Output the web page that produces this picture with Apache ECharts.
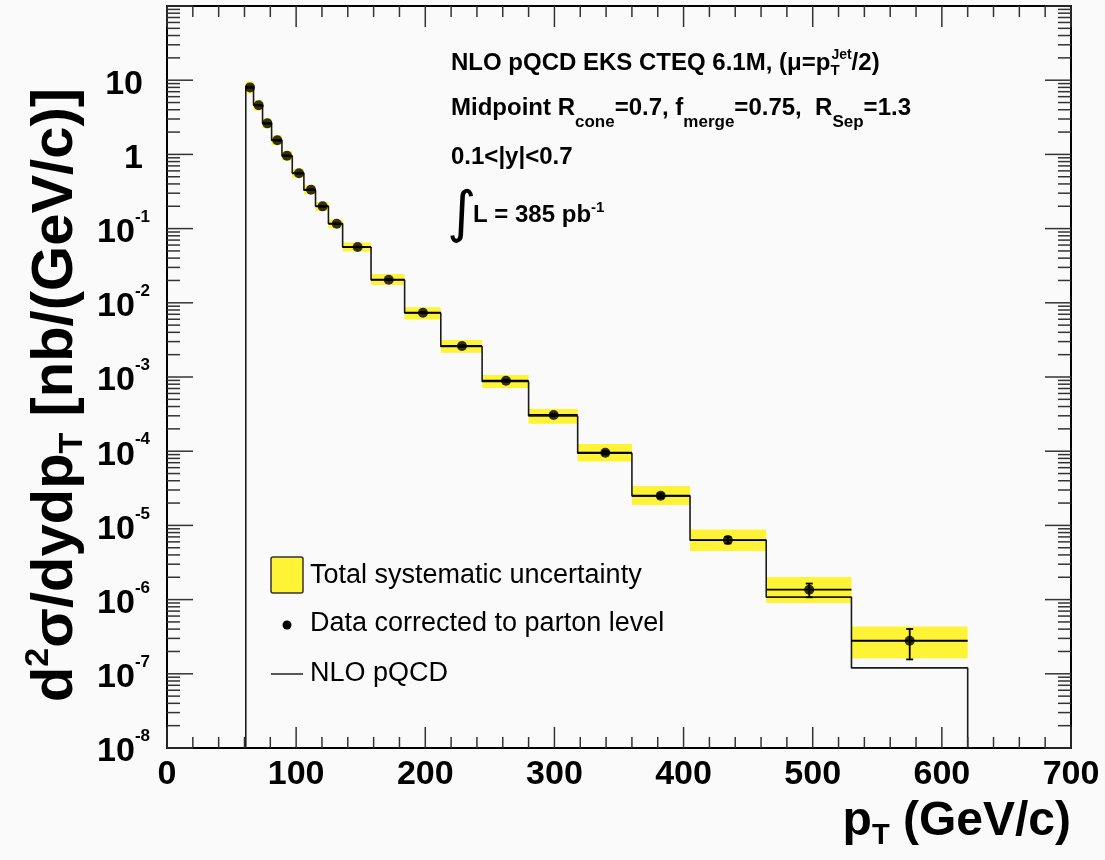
<!DOCTYPE html>
<html>
<head>
<meta charset="utf-8">
<script src="https://cdn.jsdelivr.net/npm/echarts@6/dist/echarts.min.js"></script>
<style>
  html, body { margin: 0; padding: 0; background: #fafafa; }
  #chart { width: 1105px; height: 860px; }
</style>
</head>
<body>
<div id="chart"></div>
<script>
// Jet pT bin edges (GeV/c)
const binEdges = [61, 67, 74, 81, 89, 97, 106, 115, 125, 136, 158, 184, 212, 244, 280, 318, 360, 405, 464, 530, 620];
// pT at which each measured point is placed (GeV/c)
const dataPt = [64.3, 71.0, 77.7, 85.4, 92.9, 102.2, 111.5, 120.5, 131.4, 147.6, 171.7, 198.2, 228.4, 262.5, 299.4, 339.4, 382.3, 434.3, 497.3, 575.1];
// Measured inclusive jet cross section, nb/(GeV/c)
const dataXsec = [8.0, 4.59, 2.62, 1.55, 0.96, 0.556, 0.334, 0.1995, 0.116, 0.0565, 0.0205, 0.00736, 0.00262, 8.9e-4, 3.08e-4, 9.55e-5, 2.51e-5, 6.35e-6, 1.36e-6, 2.79e-7];
// Statistical uncertainty (%)
const statErrPct = [0.4, 0.5, 0.6, 0.7, 0.8, 0.9, 1.0, 1.2, 1.4, 1.1, 1.5, 2.0, 2.5, 3.0, 4.0, 5.5, 7.0, 10, 21, 44];
// Total systematic uncertainty (%), upward and downward
const sysUpPct = [20, 17, 16, 16, 16, 15, 15, 15, 15, 15, 19, 18, 20, 20, 20, 31, 35, 39, 48, 56];
const sysDownPct = [17, 15, 14, 14, 14, 13, 13, 13, 13, 13, 15, 19, 19, 20, 24, 24, 25, 29, 34, 42];
// NLO pQCD prediction per bin, nb/(GeV/c)
const nloXsec = [8.2, 4.6, 2.6, 1.55, 0.95, 0.56, 0.33, 0.2, 0.117, 0.056, 0.0203, 0.0073, 0.00258, 8.7e-4, 2.98e-4, 9.4e-5, 2.5e-5, 6.3e-6, 1.08e-6, 1.2e-7];

// Axis ranges and tick layout
const xRange = [0, 700];
const xMajorStep = 100;
const xMinorStep = 20;
const yExpRange = [-8, 2];
const yMinorMultipliers = [2, 3, 4, 5, 6, 7, 8, 9];
// decade labels drawn on the y axis (exponents); the top decade carries none
const yLabelExps = [-8, -7, -6, -5, -4, -3, -2, -1, 0, 1];

const FONT = '"Liberation Sans", Arial, Helvetica, sans-serif';
const YELLOW = '#fff335';

const yMin = Math.pow(10, yExpRange[0]);
const yMax = Math.pow(10, yExpRange[1]);

// systematic bands
const bandData = dataXsec.map((v, i) => [
  binEdges[i], binEdges[i + 1],
  v * (1 - sysDownPct[i] / 100), v * (1 + sysUpPct[i] / 100)
]);

// data points with bin-width bars and statistical error bars
const pointData = dataXsec.map((v, i) => [
  dataPt[i], v, binEdges[i], binEdges[i + 1],
  v * (1 - statErrPct[i] / 100), v * (1 + statErrPct[i] / 100)
]);

// NLO histogram outline (rises from the axis floor at the first edge, falls back after the last)
const nloLine = [[binEdges[0], yMin]];
nloXsec.forEach((v, i) => {
  nloLine.push([binEdges[i], v]);
  nloLine.push([binEdges[i + 1], v]);
});
nloLine.push([binEdges[binEdges.length - 1], yMin]);

// inward ticks on all four sides
const tickData = [];
for (let v = xRange[0]; v <= xRange[1]; v += xMinorStep) {
  tickData.push([v, 1, v % xMajorStep === 0 ? 0 : 1]);
}
for (let e = yExpRange[0]; e <= yExpRange[1]; e++) {
  const d = Math.pow(10, e);
  tickData.push([0, d, 2]);
  if (e < yExpRange[1]) yMinorMultipliers.forEach(m => tickData.push([0, m * d, 3]));
}

// y decade labels: 10, 1, 10^-1 ... 10^-8
const yLabelData = yLabelExps.map(e => [0, Math.pow(10, e), e]);

const labelRich = {
  p: { fontFamily: FONT, fontWeight: 'bold', fontSize: 34, lineHeight: 40, padding: [8, 7, 0, 0] },
  b: { fontFamily: FONT, fontWeight: 'bold', fontSize: 34, lineHeight: 40, padding: [8, 0, 0, 0] },
  s: { fontFamily: FONT, fontWeight: 'bold', fontSize: 17, lineHeight: 17, verticalAlign: 'top' }
};

const chart = echarts.init(document.getElementById('chart'), null, { renderer: 'canvas' });

const option = {
  backgroundColor: '#fafafa',
  animation: false,
  grid: {
    left: 167, right: 34, top: 6, bottom: 112,
    show: true, borderColor: '#000', borderWidth: 2, backgroundColor: 'transparent'
  },
  xAxis: {
    type: 'value', min: xRange[0], max: xRange[1], interval: xMajorStep,
    axisLine: { show: false }, axisTick: { show: false }, splitLine: { show: false },
    axisLabel: {
      margin: 10, color: '#000', fontFamily: FONT, fontWeight: 'bold', fontSize: 34
    }
  },
  yAxis: {
    type: 'log', logBase: 10, min: yMin, max: yMax,
    axisLine: { show: false }, axisTick: { show: false }, splitLine: { show: false },
    axisLabel: { show: false }
  },
  graphic: [
    // y axis title
    {
      type: 'text', x: 56, y: 395, rotation: Math.PI / 2,
      style: {
        text: '{m|d}{u|2}{m|\u03c3/dydp}{d|T}{m| [nb/(GeV/c)]}',
        textAlign: 'center', textVerticalAlign: 'middle', fill: '#000',
        rich: {
          m: { fontFamily: FONT, fontWeight: 'bold', fontSize: 58, lineHeight: 68 },
          u: { fontFamily: FONT, fontWeight: 'bold', fontSize: 34, lineHeight: 34, verticalAlign: 'top' },
          d: { fontFamily: FONT, fontWeight: 'bold', fontSize: 34, lineHeight: 32, verticalAlign: 'bottom' }
        }
      }
    },
    // x axis title
    {
      type: 'text', x: 1071, y: 822,
      style: {
        text: '{m|p}{d|T}{m| (GeV/c)}',
        textAlign: 'right', textVerticalAlign: 'middle', fill: '#000',
        rich: {
          m: { fontFamily: FONT, fontWeight: 'bold', fontSize: 48, lineHeight: 56 },
          d: { fontFamily: FONT, fontWeight: 'bold', fontSize: 29, lineHeight: 29, verticalAlign: 'bottom' }
        }
      }
    },
    // annotation lines
    {
      type: 'text', x: 451, y: 48,
      style: {
        text: '{m|NLO pQCD EKS CTEQ 6.1M, (\u03bc=p}{d|T}{u|Jet}{m|/2)}',
        textAlign: 'left', textVerticalAlign: 'top', fill: '#000',
        rich: {
          m: { fontFamily: FONT, fontWeight: 'bold', fontSize: 24, lineHeight: 30 },
          u: { fontFamily: FONT, fontWeight: 'bold', fontSize: 14, lineHeight: 11, verticalAlign: 'top' },
          d: { fontFamily: FONT, fontWeight: 'bold', fontSize: 15, lineHeight: 13, verticalAlign: 'bottom', width: 1 }
        }
      }
    },
    {
      type: 'text', x: 451, y: 93,
      style: {
        text: '{m|Midpoint R}{d|cone}{m|=0.7, f}{d|merge}{m|=0.75,  R}{d|Sep}{m|=1.3}',
        textAlign: 'left', textVerticalAlign: 'top', fill: '#000',
        rich: {
          m: { fontFamily: FONT, fontWeight: 'bold', fontSize: 24, lineHeight: 30 },
          d: { fontFamily: FONT, fontWeight: 'bold', fontSize: 17, lineHeight: 20, verticalAlign: 'bottom', padding: [0, 0, -8, 0] }
        }
      }
    },
    {
      type: 'text', x: 451, y: 145,
      style: {
        text: '0.1<|y|<0.7', textAlign: 'left', textVerticalAlign: 'top', fill: '#000',
        font: 'bold 24px ' + FONT
      }
    },
    {
      type: 'text', x: 447, y: 216,
      style: {
        text: '\u222b', textAlign: 'left', textVerticalAlign: 'middle', fill: '#000',
        font: '56px "DejaVu Sans", sans-serif'
      }
    },
    {
      type: 'text', x: 473, y: 200,
      style: {
        text: '{m|L = 385 pb}{u|-1}',
        textAlign: 'left', textVerticalAlign: 'top', fill: '#000',
        rich: {
          m: { fontFamily: FONT, fontWeight: 'bold', fontSize: 24, lineHeight: 30 },
          u: { fontFamily: FONT, fontWeight: 'bold', fontSize: 15, lineHeight: 12, verticalAlign: 'top' }
        }
      }
    },
    // legend
    {
      type: 'rect', shape: { x: 271, y: 557, width: 32, height: 36, r: 2 },
      style: { fill: YELLOW, stroke: '#333', lineWidth: 1.5 }
    },
    {
      type: 'text', x: 310, y: 576,
      style: { text: 'Total systematic uncertainty', textVerticalAlign: 'middle', fill: '#000', font: '27px ' + FONT }
    },
    {
      type: 'circle', shape: { cx: 287, cy: 625, r: 4.5 }, style: { fill: '#000' }
    },
    {
      type: 'text', x: 310, y: 624,
      style: { text: 'Data corrected to parton level', textVerticalAlign: 'middle', fill: '#000', font: '27px ' + FONT }
    },
    {
      type: 'line', shape: { x1: 271, y1: 674, x2: 303, y2: 674 }, style: { stroke: '#222', lineWidth: 1.5 }
    },
    {
      type: 'text', x: 310, y: 674,
      style: { text: 'NLO pQCD', textVerticalAlign: 'middle', fill: '#000', font: '27px ' + FONT }
    }
  ],
  series: [
    {
      name: 'Total systematic uncertainty',
      type: 'custom',
      data: bandData,
      encode: { x: [0, 1], y: [2, 3] },
      renderItem: function (params, api) {
        const p1 = api.coord([api.value(0), api.value(3)]);
        const p2 = api.coord([api.value(1), api.value(2)]);
        return {
          type: 'rect',
          shape: { x: p1[0], y: p1[1], width: p2[0] - p1[0], height: p2[1] - p1[1] },
          style: { fill: YELLOW }
        };
      },
      z: 1
    },
    {
      name: 'NLO pQCD',
      type: 'line',
      data: nloLine,
      symbol: 'none',
      lineStyle: { color: '#1a1a1a', width: 1.6 },
      z: 2
    },
    {
      name: 'Data bars',
      type: 'custom',
      data: pointData,
      encode: { x: [0, 2, 3], y: [1, 4, 5] },
      renderItem: function (params, api) {
        const y = api.value(1);
        const x = api.value(0);
        const l = api.coord([api.value(2), y]);
        const r = api.coord([api.value(3), y]);
        const lo = api.coord([x, api.value(4)]);
        const hi = api.coord([x, api.value(5)]);
        const st = { stroke: '#000', lineWidth: 1.8 };
        const cap = 3.5;
        return {
          type: 'group',
          children: [
            { type: 'line', shape: { x1: l[0], y1: l[1], x2: r[0], y2: r[1] }, style: st },
            { type: 'line', shape: { x1: lo[0], y1: lo[1], x2: hi[0], y2: hi[1] }, style: st },
            { type: 'line', shape: { x1: lo[0] - cap, y1: lo[1], x2: lo[0] + cap, y2: lo[1] }, style: st },
            { type: 'line', shape: { x1: hi[0] - cap, y1: hi[1], x2: hi[0] + cap, y2: hi[1] }, style: st }
          ]
        };
      },
      z: 3
    },
    {
      name: 'Data corrected to parton level',
      type: 'scatter',
      data: dataPt.map((p, i) => [p, dataXsec[i]]),
      symbol: 'circle',
      symbolSize: 10,
      itemStyle: { color: '#000' },
      z: 4
    },
    {
      name: 'ticks',
      type: 'custom',
      data: tickData,
      silent: true,
      renderItem: function (params, api) {
        const kind = api.value(2);
        const st = { stroke: '#333', lineWidth: 1.5 };
        if (kind < 2) {
          const xv = api.value(0);
          const b = api.coord([xv, yMin]);
          const t = api.coord([xv, yMax]);
          const len = kind === 0 ? 21 : 11;
          return {
            type: 'group', children: [
              { type: 'line', shape: { x1: b[0], y1: b[1], x2: b[0], y2: b[1] - len }, style: st },
              { type: 'line', shape: { x1: t[0], y1: t[1], x2: t[0], y2: t[1] + len }, style: st }
            ]
          };
        }
        const yv = api.value(1);
        const l = api.coord([xRange[0], yv]);
        const r = api.coord([xRange[1], yv]);
        const len = kind === 2 ? 26 : 13;
        return {
          type: 'group', children: [
            { type: 'line', shape: { x1: l[0], y1: l[1], x2: l[0] + len, y2: l[1] }, style: st },
            { type: 'line', shape: { x1: r[0], y1: r[1], x2: r[0] - len, y2: r[1] }, style: st }
          ]
        };
      },
      z: 5
    },
    {
      name: 'y labels',
      type: 'custom',
      data: yLabelData,
      silent: true,
      clip: false,
      renderItem: function (params, api) {
        const e = api.value(2);
        const p = api.coord([xRange[0], api.value(1)]);
        let txt;
        if (e === 1) txt = '{p|10}';
        else if (e === 0) txt = '{p|1}';
        else txt = '{b|10}{s|' + e + '}';
        return {
          type: 'text',
          x: p[0] - 17, y: p[1],
          style: { text: txt, rich: labelRich, align: 'right', verticalAlign: 'middle', fill: '#000' }
        };
      },
      z: 5
    }
  ]
};

chart.setOption(option);
</script>
</body>
</html>
